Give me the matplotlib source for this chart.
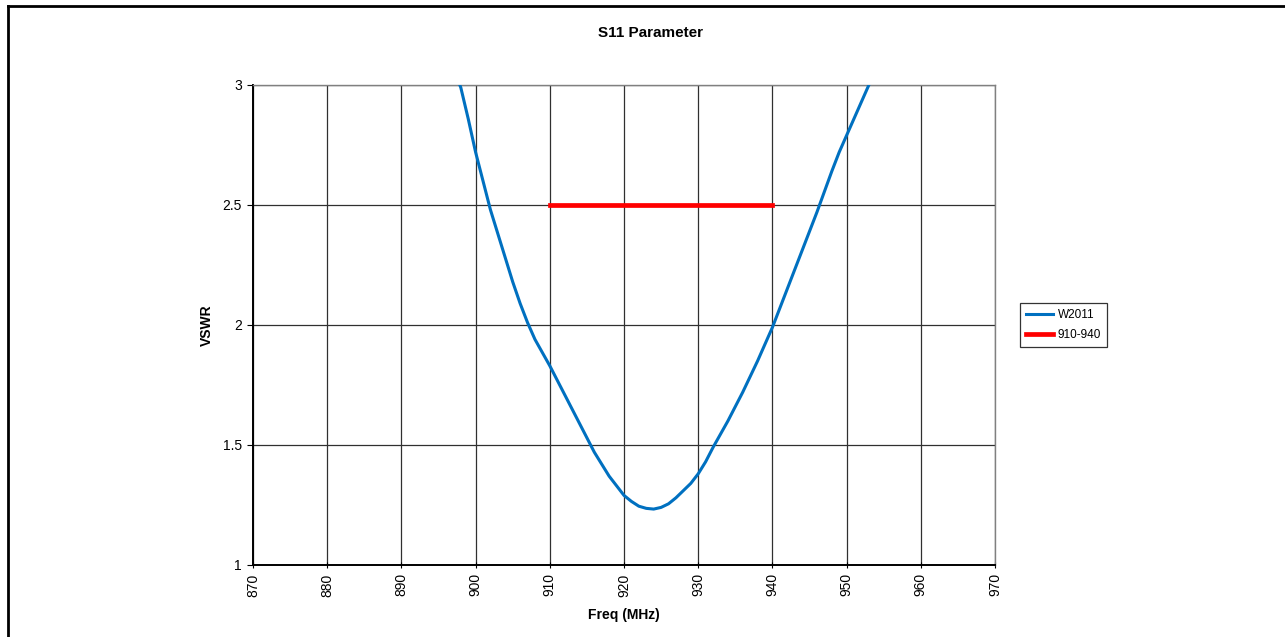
import matplotlib
matplotlib.use('Agg')
import matplotlib.pyplot as plt
from matplotlib.lines import Line2D

plt.rcParams['font.family'] = ['Liberation Sans', 'DejaVu Sans']

# W2011 sweep
freq = [894, 896, 898, 899, 900, 901, 902, 903, 904, 905, 906, 907, 908, 909,
        910, 911, 912, 913, 914, 915, 916, 917, 918, 919, 920, 921, 922, 923,
        924, 925, 926, 927, 928, 929, 930, 931, 932, 933, 934, 935, 936, 937,
        938, 939, 940, 941, 942, 943, 944, 945, 946, 947, 948, 949, 950, 951,
        952, 953, 954, 956]
vswr = [3.40, 3.14, 2.99, 2.86, 2.72, 2.60, 2.48, 2.38, 2.28, 2.18, 2.09, 2.01,
        1.94, 1.885, 1.83, 1.77, 1.71, 1.65, 1.59, 1.53, 1.47, 1.42, 1.37, 1.33,
        1.29, 1.265, 1.245, 1.236, 1.233, 1.24, 1.255, 1.28, 1.31, 1.34, 1.38,
        1.43, 1.49, 1.545, 1.60, 1.66, 1.72, 1.785, 1.85, 1.92, 1.99, 2.07,
        2.15, 2.23, 2.31, 2.39, 2.47, 2.555, 2.64, 2.72, 2.79, 2.86, 2.93, 3.00,
        3.07, 3.20]

band_freq = [910, 940]
band_vswr = [2.5, 2.5]

xticks = list(range(870, 971, 10))
yticks = [1, 1.5, 2, 2.5, 3]

fig = plt.figure(figsize=(12.85, 6.37), dpi=100)
ax = fig.add_axes([253/1285, 1 - 565/637, (995-253)/1285, (565-85)/637])

ax.plot(freq, vswr, color='#0070C0', lw=2.2, label='W2011', zorder=3)
ax.plot(band_freq, band_vswr, color='#FF0000', lw=3.4, label='910-940', zorder=3)

ax.set_xlim(870, 970)
ax.set_ylim(1, 3)
ax.set_xticks(xticks)
ax.set_yticks(yticks)
ax.set_xticklabels([str(t) for t in xticks], rotation=90, fontsize=10)
ax.set_yticklabels(['1', '1.5', '2', '2.5', '3'], fontsize=10)
ax.grid(True, color='#303030', lw=0.9)
ax.tick_params(axis='both', length=4, width=0.8, color='black', pad=4)
ax.tick_params(axis='x', direction='inout')
for s in ['top', 'right']:
    ax.spines[s].set_color('#808080')
    ax.spines[s].set_linewidth(1.0)
for s in ['left', 'bottom']:
    ax.spines[s].set_color('black')
    ax.spines[s].set_linewidth(1.4)

ax.set_xlabel('Freq (MHz)', fontsize=10, fontweight='bold', labelpad=8)
ax.set_ylabel('VSWR', fontsize=10, fontweight='bold', labelpad=6)
fig.text(651/1285, 1 - 33/637, 'S11 Parameter', fontsize=11, fontweight='bold',
         ha='center', va='center')

leg = fig.legend(loc='center left', bbox_to_anchor=(1020/1285, 1 - 325/637),
                 fontsize=8.5, frameon=True, fancybox=False, edgecolor='black',
                 handlelength=2.3, borderpad=0.5, labelspacing=0.7,
                 handletextpad=0.4, borderaxespad=0)
leg.get_frame().set_linewidth(0.9)

# outer chart border (top and left visible)
fig.add_artist(Line2D([8/1285, 8/1285], [0, 1 - 6/637], transform=fig.transFigure,
                      color='black', lw=2))
fig.add_artist(Line2D([8/1285, 1], [1 - 6/637, 1 - 6/637], transform=fig.transFigure,
                      color='black', lw=2))

fig.savefig('out.png', dpi=100)
